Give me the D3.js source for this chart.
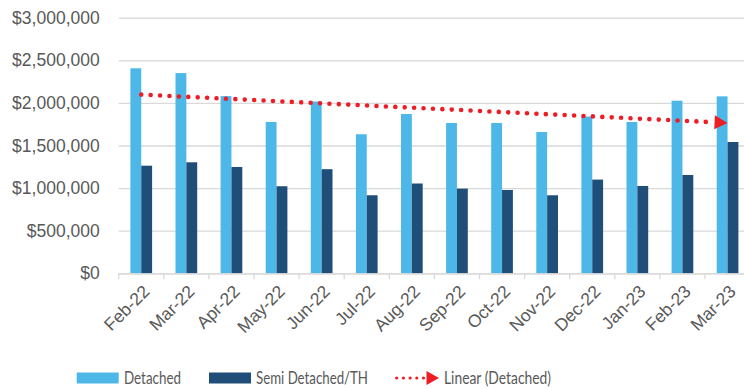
<!DOCTYPE html>
<html>
<head>
<meta charset="utf-8">
<script src="https://cdn.jsdelivr.net/npm/d3@7"></script>
<style>
  html, body { margin: 0; padding: 0; background: #fff; }
  svg { display: block; font-family: Lato, "Open Sans", sans-serif; }
</style>
</head>
<body>
<svg id="chart" width="744" height="389"></svg>
<script>
// Monthly median sale prices
const months = ["Feb-22","Mar-22","Apr-22","May-22","Jun-22","Jul-22","Aug-22",
                "Sep-22","Oct-22","Nov-22","Dec-22","Jan-23","Feb-23","Mar-23"];
const detached = [2406000, 2350000, 2080000, 1776000, 2016000, 1632000, 1870000,
                  1764000, 1764000, 1658000, 1840000, 1776000, 2026000, 2077000];
const semiDetached = [1263000, 1303000, 1248000, 1022000, 1222000, 916000, 1054000,
                      994000, 978000, 916000, 1100000, 1025000, 1154000, 1541000];
const yTicks = [0, 500000, 1000000, 1500000, 2000000, 2500000, 3000000];
const seriesNames = ["Detached", "Semi Detached/TH"];
const colors = { "Detached": "#4db8e8", "Semi Detached/TH": "#1f4e79", trend: "#ee1c24" };

const svg = d3.select("#chart");
const plot = { left: 118.7, right: 750.1, top: 17.7, bottom: 273.3 };

const x0 = d3.scaleBand().domain(months).range([plot.left, plot.right]).padding(0);
const groupW = 21.7;
const x1 = d3.scaleBand().domain(seriesNames)
  .range([(x0.bandwidth() - groupW) / 2, (x0.bandwidth() + groupW) / 2]).padding(0);
const y = d3.scaleLinear().domain([0, 3000000]).range([plot.bottom, plot.top]);

const fmt = d3.format("$,.0f");

// Horizontal gridlines + y labels
const yAxis = d3.axisLeft(y).tickValues(yTicks).tickFormat(fmt)
  .tickSize(-(plot.right - plot.left)).tickPadding(19);
const gy = svg.append("g").attr("transform", `translate(${plot.left},0)`).call(yAxis);
gy.select(".domain").remove();
gy.selectAll(".tick line").attr("stroke", "#d9d9d9").attr("stroke-width", 1.3);
gy.selectAll(".tick text").attr("fill", "#595959").attr("font-size", 17.5);

// Bars
const rows = months.map((m, i) => ({ month: m, values: [detached[i], semiDetached[i]] }));
const groups = svg.append("g").selectAll("g").data(rows).join("g")
  .attr("transform", d => `translate(${x0(d.month)},0)`);
groups.selectAll("rect")
  .data(d => d.values.map((v, k) => ({ key: seriesNames[k], value: v })))
  .join("rect")
  .attr("x", d => x1(d.key))
  .attr("width", x1.bandwidth())
  .attr("y", d => y(d.value))
  .attr("height", d => y(0) - y(d.value))
  .attr("fill", d => colors[d.key]);

// Category axis
const xAxis = d3.axisBottom(x0).tickSize(0).tickFormat(d => d);
const gx = svg.append("g").attr("transform", `translate(0,${plot.bottom})`).call(xAxis);
gx.select(".domain").attr("stroke", "#d9d9d9").attr("stroke-width", 1.3);
gx.selectAll(".tick text")
  .attr("fill", "#595959").attr("font-size", 17.5)
  .attr("text-anchor", "end")
  .attr("transform", "translate(5,15) rotate(-45)")
  .attr("dy", "0.35em").attr("y", 0);
// Tick marks on category boundaries
const boundaries = months.map(m => x0(m)).concat([x0(months[months.length - 1]) + x0.bandwidth()]);
svg.append("g").selectAll("line").data(boundaries).join("line")
  .attr("x1", d => d).attr("x2", d => d)
  .attr("y1", plot.bottom).attr("y2", plot.bottom + 6)
  .attr("stroke", "#d9d9d9").attr("stroke-width", 1.3);

// Linear trendline fitted to the Detached series
const n = detached.length;
const xm = (n - 1) / 2;
const ym = d3.mean(detached);
let sxy = 0, sxx = 0;
detached.forEach((v, i) => { sxy += (i - xm) * (v - ym); sxx += (i - xm) * (i - xm); });
const slope = sxy / sxx;
const intercept = ym - slope * xm;
const cx = i => x0(months[i]) + x0.bandwidth() / 2;
const tx0 = cx(0), ty0 = y(intercept);
const tx1 = cx(n - 1), ty1 = y(intercept + slope * (n - 1));
const ang = Math.atan2(ty1 - ty0, tx1 - tx0);
const headLen = 13, headHalf = 7;
const bx = tx1 - headLen * Math.cos(ang), by = ty1 - headLen * Math.sin(ang);

svg.append("line")
  .attr("x1", tx0).attr("y1", ty0).attr("x2", bx - 4 * Math.cos(ang)).attr("y2", by - 4 * Math.sin(ang))
  .attr("stroke", colors.trend).attr("stroke-width", 4.6)
  .attr("stroke-linecap", "round").attr("stroke-dasharray", "0 9.42");
svg.append("path")
  .attr("d", `M${tx1},${ty1}L${bx - headHalf * Math.sin(ang)},${by + headHalf * Math.cos(ang)}L${bx + headHalf * Math.sin(ang)},${by - headHalf * Math.cos(ang)}Z`)
  .attr("fill", colors.trend);

// Legend
const lg = svg.append("g").attr("font-size", 16.5).attr("fill", "#595959");
const legendY = 372.5, swH = 11;
[{ key: "Detached", x: 76.7, tx: 124, w: 57 }, { key: "Semi Detached/TH", x: 209, tx: 256, w: 112 }].forEach(d => {
  lg.append("rect").attr("x", d.x).attr("y", legendY).attr("width", 42).attr("height", swH)
    .attr("fill", colors[d.key]);
  lg.append("text").attr("x", d.tx).attr("y", legendY + swH + 0.5)
    .attr("textLength", d.w).attr("lengthAdjust", "spacingAndGlyphs").text(d.key);
});
const ly = legendY + swH / 2;
lg.append("line").attr("x1", 396.7).attr("x2", 424).attr("y1", ly).attr("y2", ly)
  .attr("stroke", colors.trend).attr("stroke-width", 3.2)
  .attr("stroke-linecap", "round").attr("stroke-dasharray", "0 6.7");
lg.append("path").attr("d", `M426.5,${ly - 7}L439,${ly}L426.5,${ly + 7}Z`).attr("fill", colors.trend);
lg.append("text").attr("x", 444).attr("y", legendY + swH + 0.5)
  .attr("textLength", 107).attr("lengthAdjust", "spacingAndGlyphs").text("Linear (Detached)");
</script>
</body>
</html>
